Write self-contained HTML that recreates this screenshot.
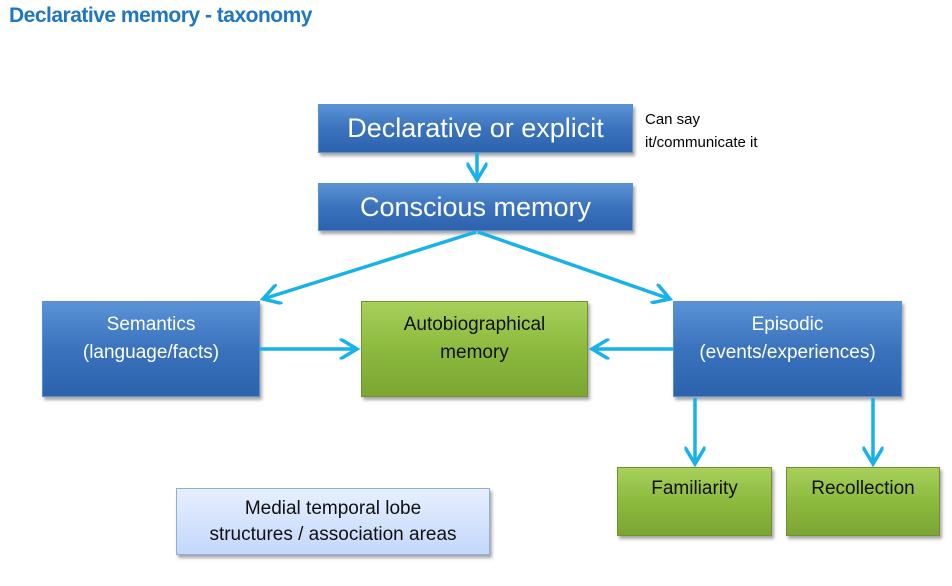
<!DOCTYPE html>
<html><head><style>
body{margin:0;width:952px;height:586px;background:#fff;position:relative;overflow:hidden;font-family:"Liberation Sans",sans-serif}
.b{position:absolute;box-sizing:border-box;display:flex;align-items:center;justify-content:center;text-align:center;box-shadow:2px 3px 3px rgba(0,0,0,.35)}
.blue{background:linear-gradient(#5b93d6,#3a72bd 50%,#2d63ad);border:1px solid #5a8fd0;color:#fff}
.green{background:linear-gradient(#a8d05c,#8cba3e 50%,#7ca533);border:1px solid #6f9130;color:#111}
</style></head><body>
<div style="position:absolute;left:9px;top:4px;font-size:21px;font-weight:bold;color:#1f76c2;letter-spacing:-0.5px">Declarative memory - taxonomy</div>
<div class="b blue" style="left:318px;top:104px;width:315px;height:49px;font-size:27px">Declarative or explicit</div>
<div class="b blue" style="left:318px;top:183px;width:315px;height:48px;font-size:27px">Conscious memory</div>
<div style="position:absolute;left:645px;top:108px;font-size:15px;line-height:23px;color:#000">Can say<br>it/communicate it</div>
<div class="b blue" style="left:42px;top:301px;width:218px;height:96px;font-size:19px;line-height:28px;align-items:flex-start;padding-top:9px">Semantics<br>(language/facts)</div>
<div class="b green" style="left:361px;top:301px;width:227px;height:96px;font-size:19px;line-height:28px;align-items:flex-start;padding-top:9px">Autobiographical<br>memory</div>
<div class="b blue" style="left:673px;top:301px;width:229px;height:96px;font-size:19px;line-height:28px;align-items:flex-start;padding-top:9px">Episodic<br>(events/experiences)</div>
<div class="b green" style="left:617px;top:467px;width:155px;height:69px;font-size:19px;align-items:flex-start;padding-top:10px">Familiarity</div>
<div class="b green" style="left:786px;top:467px;width:154px;height:69px;font-size:19px;align-items:flex-start;padding-top:10px">Recollection</div>
<div class="b" style="left:176px;top:488px;width:314px;height:67px;font-size:19px;line-height:26px;background:linear-gradient(#e6efff,#c4d8fb);border:1px solid #8eaee0;color:#111">Medial temporal lobe<br>structures / association areas</div>
<svg width="952" height="586" style="position:absolute;left:0;top:0" fill="none" stroke="#17b2e8" stroke-width="3.5">
<defs><marker id="a" markerWidth="6" markerHeight="6" refX="5" refY="3" orient="auto" markerUnits="strokeWidth"><path d="M0,0 L5,3 L0,6" stroke="#17b2e8" stroke-width="1" fill="none"/></marker></defs>
<g marker-end="url(#a)">
<line x1="477" y1="153" x2="477" y2="180"/>
<line x1="476" y1="232" x2="263" y2="299"/>
<line x1="478" y1="232" x2="670" y2="299"/>
<line x1="260" y1="349" x2="357" y2="349"/>
<line x1="673" y1="349" x2="592" y2="349"/>
<line x1="695" y1="398" x2="695" y2="464"/>
<line x1="873" y1="398" x2="873" y2="464"/>
</g></svg>
</body></html>
